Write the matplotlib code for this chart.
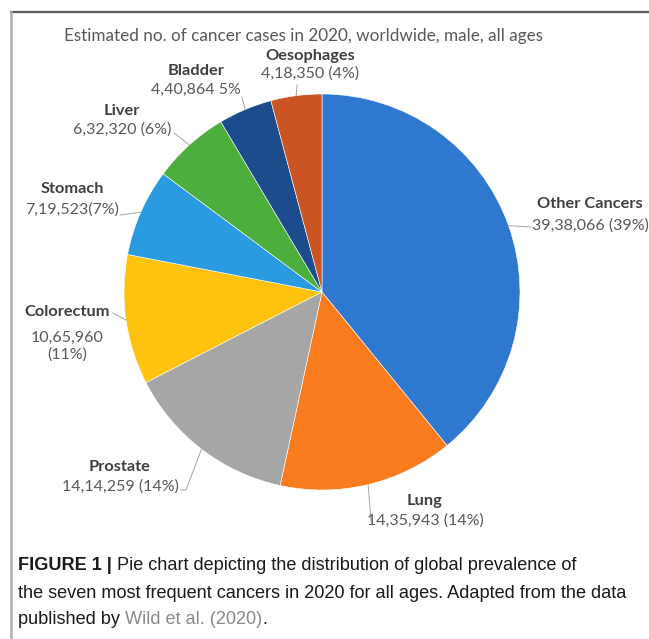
import matplotlib.pyplot as plt
from matplotlib.lines import Line2D
import numpy as np

# Data
names = ['Other Cancers', 'Lung', 'Prostate', 'Colorectum', 'Stomach', 'Liver', 'Bladder', 'Oesophages']
cases = [3938066, 1435943, 1414259, 1065960, 719523, 632320, 440864, 418350]
value_labels = ['39,38,066 (39%)', '14,35,943 (14%)', '14,14,259 (14%)', '10,65,960\n(11%)',
                '7,19,523(7%)', '6,32,320 (6%)', '4,40,864 5%', '4,18,350 (4%)']
colors = ['#2f78d0', '#f97c1e', '#a6a6a6', '#ffc20e', '#2a9be0', '#4cae3c', '#1d4c8c', '#cb5522']

W, H = 649, 639
fig = plt.figure(figsize=(W / 100, H / 100), dpi=100)

# pie placement in pixels
cx, cy, r = 322, 292, 198
ax = fig.add_axes([(cx - r) / W, (H - cy - r) / H, 2 * r / W, 2 * r / H])
wedges, _ = ax.pie(cases, colors=colors, startangle=90, counterclock=False,
                   wedgeprops=dict(edgecolor='white', linewidth=0.4))
ax.set_xlim(-1, 1)
ax.set_ylim(-1, 1)
ax.set_aspect('equal')
ax.axis('off')


def to_data(px, py):
    return (px - cx) / r, (cy - py) / r


# label layout in pixels: name centre x, name y, value y, leader start point(s)
layout = {
    'Other Cancers': (590, 204, 226, [(531, 227)]),
    'Lung': (425, 501, 521, [(371, 521)]),
    'Prostate': (120, 467, 487, [(181, 490), (186, 490)]),
    'Colorectum': (67, 312, 331, [(113, 313)]),
    'Stomach': (72, 189, 210, [(120, 215)]),
    'Liver': (122, 111, 130, [(174, 133)]),
    'Bladder': (196, 71, 90, [(242, 97)]),
    'Oesophages': (310, 56, 74, [(297, 85)]),
}

title_c = '#595959'
name_c = '#404040'
fam = ['Lato', 'DejaVu Sans']
ax.text(*to_data(304, 36), 'Estimated no. of cancer cases in 2020, worldwide, male, all ages',
        ha='center', va='center', fontsize=12.3, color=title_c, family=fam, clip_on=False)

for w, name, val in zip(wedges, names, value_labels):
    px, ny, vy, lead = layout[name]
    ax.text(*to_data(px, ny), name, ha='center', va='center', fontsize=11.8,
            fontweight='bold', color=name_c, family=fam, clip_on=False)
    ax.text(*to_data(px, vy), val, ha='center', va='top' if '\n' in val else 'center',
            fontsize=11.5, color=title_c, family=fam, clip_on=False, linespacing=1.2)
    # leader line to the middle of the wedge edge
    mid = np.deg2rad((w.theta1 + w.theta2) / 2)
    pts = np.array([to_data(*p) for p in lead] + [(np.cos(mid), np.sin(mid))])
    ax.plot(pts[:, 0], pts[:, 1], color='#a6a6a6', lw=0.7, clip_on=False)

# frame around the figure panel (top and left edges only are visible)
fig.add_artist(Line2D([11 / W, 1], [1 - 12 / H] * 2, transform=fig.transFigure,
                      color='#5a5a5a', lw=1.6))
fig.add_artist(Line2D([11 / W] * 2, [0, 1 - 12 / H], transform=fig.transFigure,
                      color='#b0b0b0', lw=1.8))

# caption
cap_fam = ['Liberation Sans', 'DejaVu Sans']
cap_size = 13.1
renderer = fig.canvas.get_renderer()


def put_line(parts, x0, y_px):
    x = x0 / W
    for txt, weight, col in parts:
        t = fig.text(x, 1 - y_px / H, txt, fontsize=cap_size, fontweight=weight,
                     color=col, family=cap_fam, va='center', ha='left')
        bb = t.get_window_extent(renderer)
        x = bb.x1 / W


put_line([('FIGURE 1 | ', 'bold', '#1a1a1a'),
          ('Pie chart depicting the distribution of global prevalence of', 'normal', '#1a1a1a')],
         18, 566)
put_line([('the seven most frequent cancers in 2020 for all ages. Adapted from the data',
           'normal', '#1a1a1a')], 18, 593)
put_line([('published by ', 'normal', '#1a1a1a'), ('Wild et al. (2020)', 'normal', '#8a8a8a'),
          ('.', 'normal', '#1a1a1a')], 18, 620)

fig.savefig('out.png', dpi=100)
